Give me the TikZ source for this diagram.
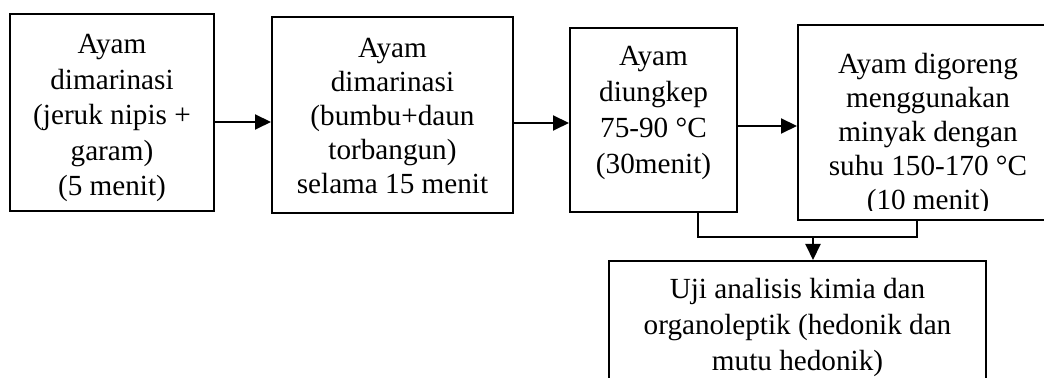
\documentclass[tikz,border=0pt]{standalone}
\usepackage{fontspec}
\setmainfont{Liberation Serif}
\usetikzlibrary{positioning,arrows.meta}

\begin{document}
\begin{tikzpicture}[
    x=0.5pt, y=-0.5pt,
    kotak/.style={draw, rectangle, line width=1pt, inner sep=0pt, anchor=north west},
    teks/.style={align=center, inner sep=0pt, anchor=north, font=\fontsize{14.6}{#1}\selectfont},
    teks/.default=17.25pt,
    panah/.style={line width=1pt, -{Triangle[length=8pt, width=7.5pt]}}
  ]
    \clip (0,0) rectangle (1044,378);
    % kotak proses
    \node[kotak, minimum width=102pt, minimum height=98.5pt] (marinasi1) at (9,13) {};
    \node[kotak, minimum width=120.5pt, minimum height=98pt] (marinasi2) at (271,16) {};
    \node[kotak, minimum width=83.5pt, minimum height=92pt] (ungkep) at (569,27) {};
    \node[kotak, minimum width=130pt, minimum height=97.5pt] (goreng) at (797,24) {};
    \node[kotak, minimum width=188.5pt, minimum height=80pt] (uji) at (608,260) {};

    % isi teks
    \node[teks=17.8pt, below=10.4pt of marinasi1.north] {Ayam\\dimarinasi\\(jeruk nipis +\\garam)\\(5 menit)};
    \node[teks=17pt, below=10.9pt of marinasi2.north] {Ayam\\dimarinasi\\(bumbu+daun\\torbangun)\\selama 15 menit};
    \node[teks=18pt, below=9.4pt of ungkep.north] {Ayam\\diungkep\\75-90 °C\\(30menit)};
    \begin{scope}
      \clip (goreng.north west) rectangle ([yshift=5pt]goreng.south east);
      \node[teks=17pt, below=14.2pt of goreng.north] {Ayam digoreng\\menggunakan\\minyak dengan\\suhu 150-170 °C\\(10 menit)};
    \end{scope}
    \node[teks=18pt, below=8.9pt of uji.north] {Uji analisis kimia dan\\organoleptik (hedonik dan\\mutu hedonik)};

    % panah antar tahap
    \draw[panah] (marinasi1.east |- 0,122) -- (marinasi2.west |- 0,122);
    \draw[panah] (marinasi2.east |- 0,123) -- (ungkep.west |- 0,123);
    \draw[panah] (ungkep.east |- 0,126) -- (goreng.west |- 0,126);

    % gabungan ke uji
    \coordinate (gabung) at (813,237);
    \draw[line width=1pt] (ungkep.south -| 698,0) |- (gabung) -| (goreng.south -| 917,0);
    \draw[panah] (gabung) -- (uji.north -| gabung);
\end{tikzpicture}
\end{document}
